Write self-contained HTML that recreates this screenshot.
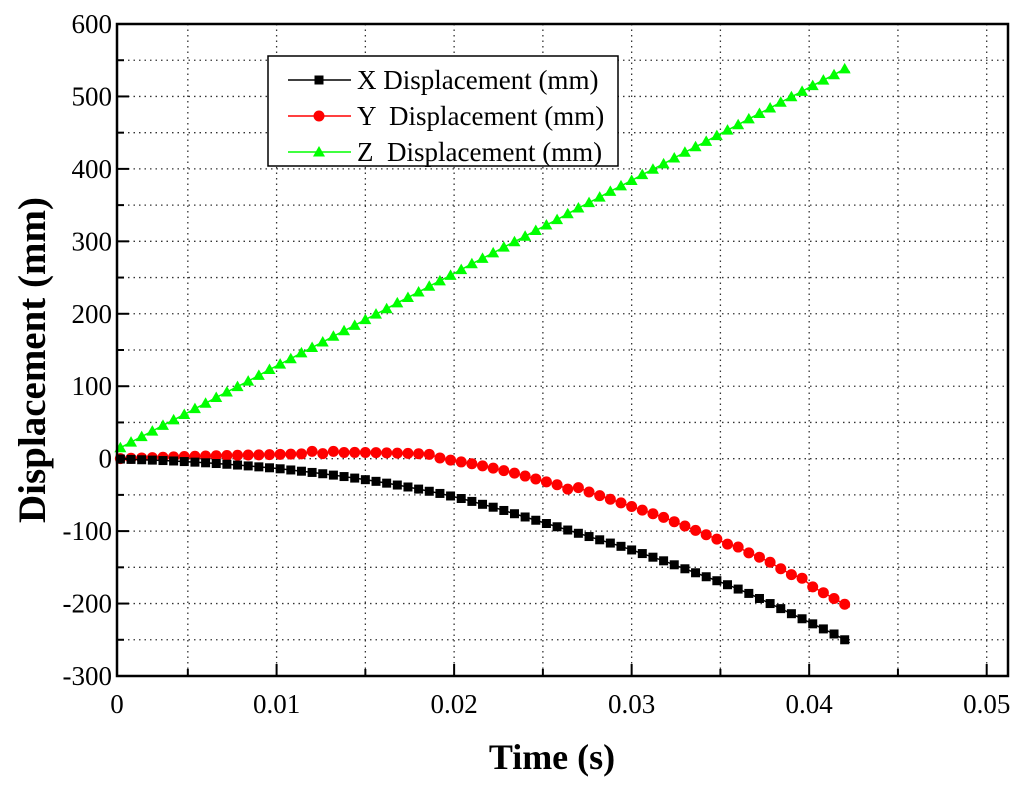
<!DOCTYPE html>
<html><head><meta charset="utf-8"><style>
html,body{margin:0;padding:0;background:#fff;}
svg{display:block;font-family:"Liberation Serif",serif;}
svg text{white-space:pre;}
</style></head><body>
<svg id="chart" width="1024" height="788" viewBox="0 0 1024 788" xmlns="http://www.w3.org/2000/svg">
<g id="grid"></g>
<g id="series"></g>
<g id="axes"></g>
<text x="552" y="769" text-anchor="middle" font-size="36" font-weight="bold">Time (s)</text>
<text transform="translate(45,360) rotate(-90)" text-anchor="middle" font-size="39" font-weight="bold">Displacement (mm)</text>
<g id="legend">
<rect x="268" y="56" width="350" height="110" fill="#fff" stroke="#000" stroke-width="1.5"/>
</g>
</svg>
<script>
const xTicks=[0,0.01,0.02,0.03,0.04,0.05];
const xTickLabels=["0","0.01","0.02","0.03","0.04","0.05"];
const yTicks=[600,500,400,300,200,100,0,-100,-200,-300];
const yTickLabels=["600","500","400","300","200","100","0","-100","-200","-300"];
const tStart=0.0012, tStep=0.0006;
const xDisp=[-0.5,-1,-1.5,-2,-2.6,-3.2,-4,-4.8,-5.7,-6.7,
-7.7,-8.8,-10,-11.3,-12.6,-14,-15.6,-17.3,-19,-20.8,
-22.7,-24.7,-26.8,-29,-31.3,-33.8,-36.4,-39.1,-42,-45,
-48,-51.5,-55,-59,-63,-67,-71.5,-76,-80.5,-85,
-89.5,-94,-98.5,-103,-107.5,-112,-116.5,-121,-126,-131,
-136,-141,-146.5,-152,-157.5,-163,-168.5,-174,-180,-186,
-193,-200,-207,-214,-221,-228,-235,-242,-250];
const yDisp=[0,0.5,1,1.5,2,2.5,3,3.3,3.6,4,
4.3,4.7,5,5.3,5.6,6,6.3,6.6,10,7,
10,8.5,8.6,8.5,8.3,8,7.7,7.3,6.8,6,
1,-2,-4.5,-7,-10,-13,-16.5,-20,-24,-28,
-32,-36,-42,-40,-46,-51,-56,-61,-66,-71,
-76,-81,-87,-93,-99,-105,-111,-118,-122,-130,
-136,-143,-152,-160,-165,-177,-185,-193,-201];
const zDisp=[15,22.8,30.5,38,46,53.5,61,69,76.5,84.5,
92,99.5,107,115,123,130.5,138,146,153.5,161,
169,176.5,184,192,199.5,207,215,222.5,230,238,
245.5,253,261,269,276.5,284,292,299.5,307,315,
322.5,330,338,346,353.5,361,369,376.5,384,392,
399.5,407,415,423,430.5,438,446,453.5,461,469,
476.5,484,492,499.5,507,515,522.5,530,538];

const NS="http://www.w3.org/2000/svg";
const L=117,R=1008,T=24,B=676;
const X0=0.00101,X1=0.0512,Y0=-300,Y1=600;
function sx(v){return L+(v-X0)/(X1-X0)*(R-L);}
function sy(v){return B-(v-Y0)/(Y1-Y0)*(B-T);}
function mk(tag,attrs,parent){const e=document.createElementNS(NS,tag);for(const k in attrs)e.setAttribute(k,attrs[k]);parent.appendChild(e);return e;}
const grid=document.getElementById('grid'),axes=document.getElementById('axes'),series=document.getElementById('series'),legend=document.getElementById('legend');

for(let i=0;i<=10;i++){const v=i*0.005;const x=sx(v);if(x<=L+1||x>=R-1)continue;
 const g=mk('line',{x1:x,x2:x,y1:T,y2:B,stroke:'#333','stroke-width':1.3,'stroke-dasharray':'1.5,4'},grid);
 
 
 const tk=mk('line',{x1:x,x2:x,y1:B,y2:B-(i%2==0?12:7),stroke:'#000','stroke-width':2},axes);
 
 
}
for(let v=-300;v<=600;v+=50){const y=sy(v);if(y<=T+1||y>=B-1)continue;
 const g=mk('line',{x1:L,x2:R,y1:y,y2:y,stroke:'#333','stroke-width':1.3,'stroke-dasharray':'1.5,4'},grid);
 
 
 const tk=mk('line',{x1:L,x2:L+(v%100==0?12:7),y1:y,y2:y,stroke:'#000','stroke-width':2},axes);
 
 
}
const frame=mk('rect',{x:L,y:T,width:R-L,height:B-T,fill:'none',stroke:'#000','stroke-width':2.5},axes);


xTicks.forEach((v,i)=>{const x=i==0?L:sx(v);
 const t=mk('text',{x:x,y:B+37,'text-anchor':'middle','font-size':27},axes);t.textContent=xTickLabels[i];
 
 
});
yTicks.forEach((v,i)=>{const t=mk('text',{x:L-5,y:sy(v)+9,'text-anchor':'end','font-size':27},axes);t.textContent=yTickLabels[i];
 
 
});

function marker(kind,x,y,color,parent){
 let m;
 if(kind=='square')m=mk('rect',{x:x-4.5,y:y-4.5,width:9,height:9,fill:color},parent);
 else if(kind=='circle')m=mk('circle',{cx:x,cy:y,r:5.5,fill:color},parent);
 else m=mk('polygon',{points:`${x},${y-6} ${x-6},${y+4.5} ${x+6},${y+4.5}`,fill:color},parent);
 return m;
}
function drawSeries(vals,color,kind,name){
 const g=mk('g',{},series);
 
 
 const pts=vals.map((v,i)=>[sx(tStart+tStep*i),sy(v)]);
 const last=pts[pts.length-1];
 const line=mk('polyline',{points:pts.map(p=>p.join(',')).join(' ')+` ${last[0]+5},${last[1]+3}`,fill:'none',stroke:color,'stroke-width':1.5},g);
 
 
 pts.forEach(p=>{const m=marker(kind,p[0],p[1],color,g);
  
  
 });
}
drawSeries(zDisp,'#00ff00','tri','z-displacement-series');
drawSeries(yDisp,'#ff0000','circle','y-displacement-series');
drawSeries(xDisp,'#000000','square','x-displacement-series');

const leg=[['X Displacement (mm)','#000','square',80],['Y  Displacement (mm)','#ff0000','circle',116],['Z  Displacement (mm)','#00ff00','tri',152]];
leg.forEach(e=>{
 const g=mk('g',{},legend);
 
 
 mk('line',{x1:288,x2:351,y1:e[3],y2:e[3],stroke:e[1],'stroke-width':1.5},g);
 marker(e[2],319,e[3],e[1],g);
 const t=mk('text',{x:357,y:e[3]+9,'font-size':27},g);t.textContent=e[0];
});
</script>
</body></html>
